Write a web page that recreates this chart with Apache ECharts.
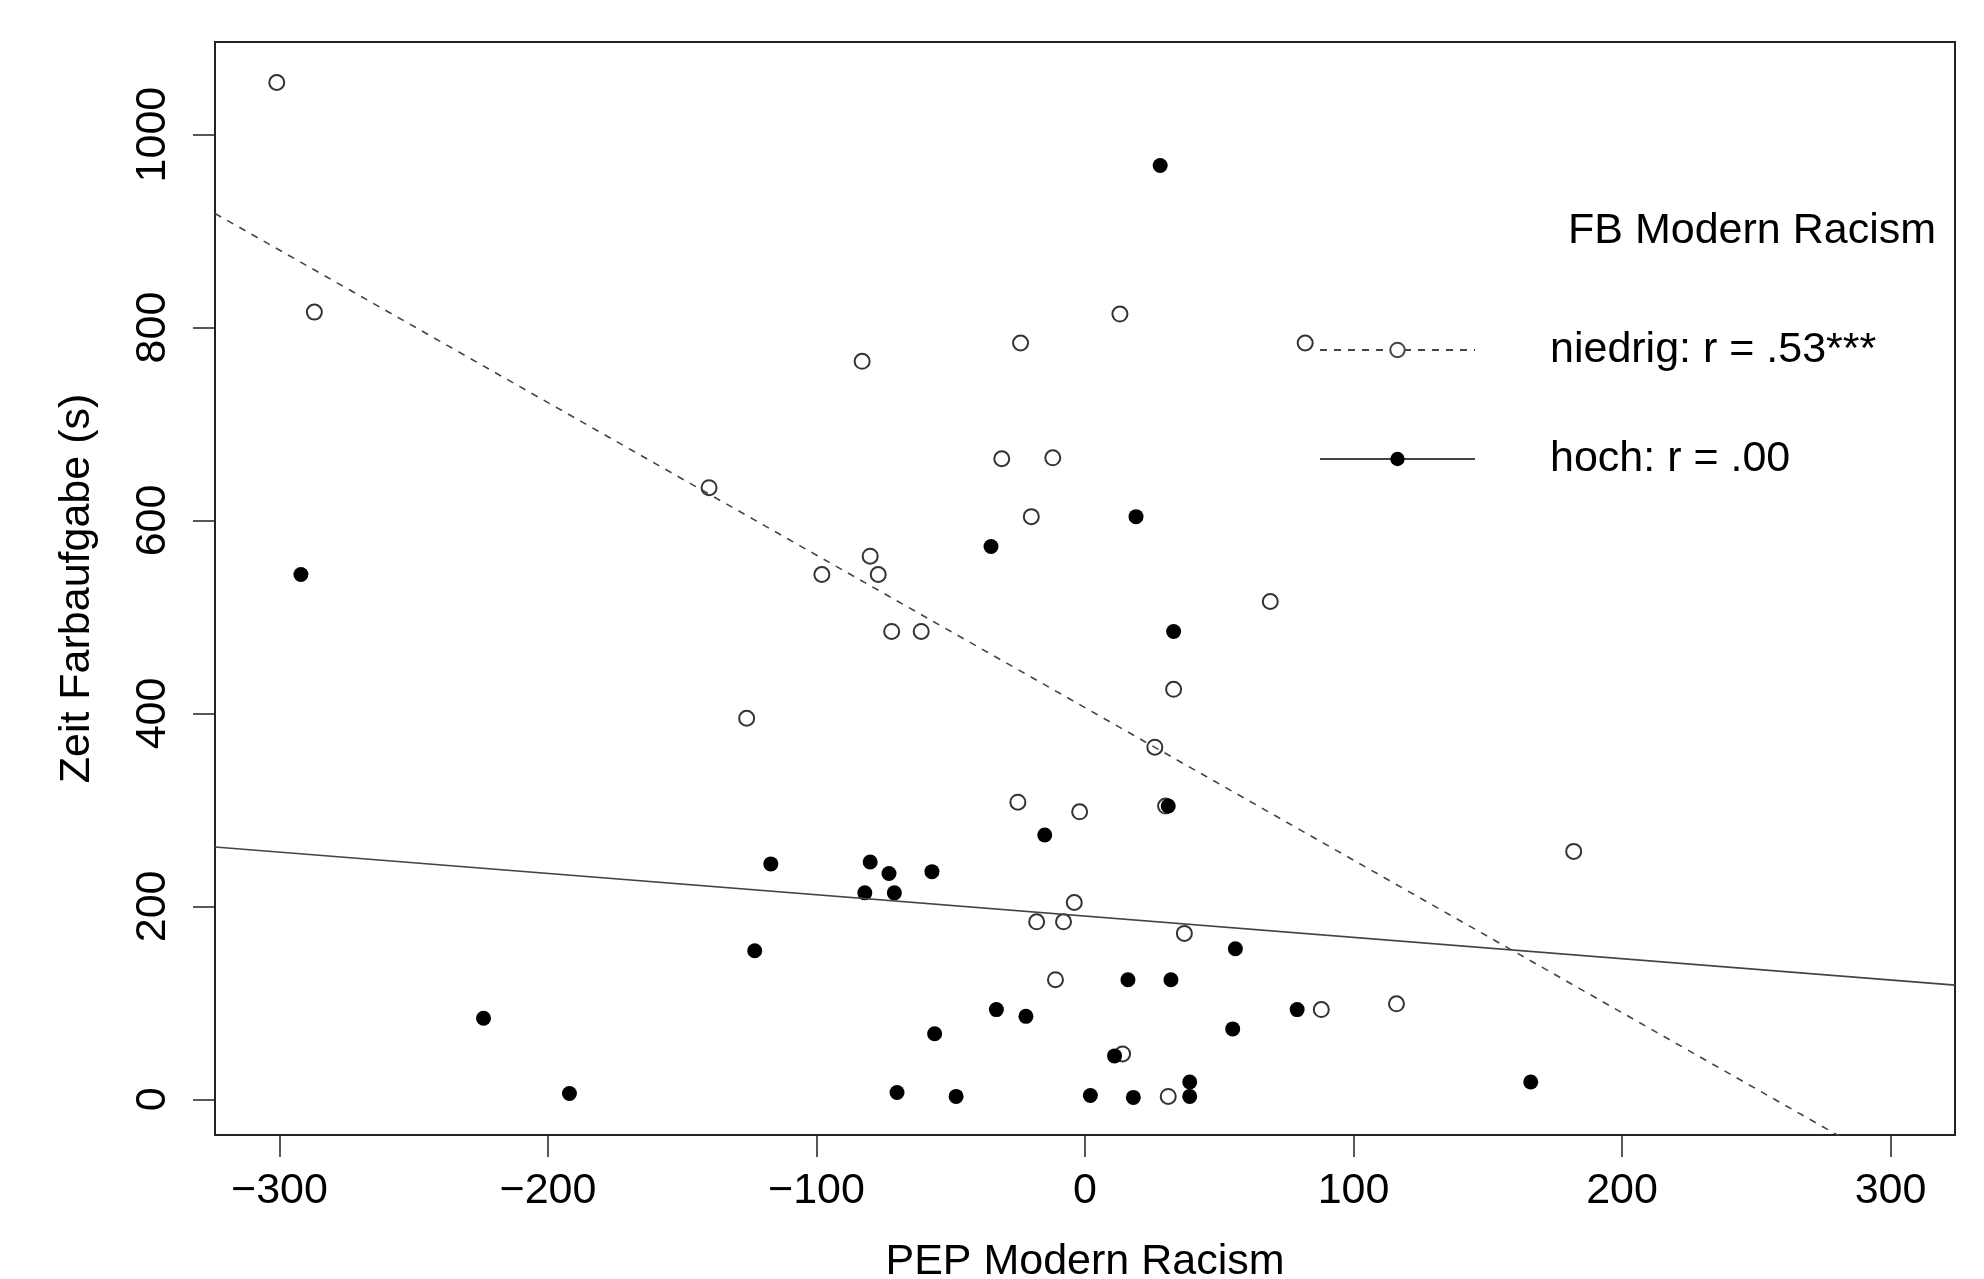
<!DOCTYPE html>
<html>
<head>
<meta charset="utf-8">
<title>Zeit Farbaufgabe vs PEP Modern Racism</title>
<script src="https://cdn.jsdelivr.net/npm/echarts@6.0.0/dist/echarts.min.js"></script>
<style>
  html, body { margin: 0; padding: 0; background: #fff; }
  #chart { width: 1984px; height: 1279px; }
</style>
</head>
<body>
<div id="chart"></div>
<script>
// Punkte gruppe "niedrig" (offene Kreise): [PEP, Zeit]
const niedrigPoints = [
  [-301, 1054], [-287, 816], [-83, 765], [-24, 784], [13, 814], [82, 784],
  [-140, 634], [-31, 664], [-12, 665], [-20, 604], [-80, 563], [-98, 544],
  [-77, 544], [-72, 485], [-61, 485], [-126, 395], [33, 425], [26, 365],
  [69, 516], [-25, 308], [-2, 298], [30, 304], [182, 257], [-4, 204],
  [-18, 184], [-8, 184], [37, 172], [-11, 124], [88, 93], [116, 99],
  [14, 47], [31, 3]
];
// gruppe "hoch" (gefuellte Kreise)
const hochPoints = [
  [28, 968], [19, 604], [-35, 573], [-292, 544], [33, 485], [31, 304],
  [-15, 274], [-117, 244], [-80, 246], [-73, 234], [-57, 236], [-82, 214],
  [-71, 214], [-123, 154], [56, 156], [16, 124], [32, 124], [-33, 93],
  [-22, 86], [79, 93], [-224, 84], [-56, 68], [55, 73], [11, 45],
  [-192, 6], [-70, 7], [-48, 3], [2, 4], [18, 2], [39, 3], [39, 18], [166, 18]
];
// Regressionsgeraden: [Achsenabschnitt, Steigung]
const niedrigFit = [406, -1.581];
const hochFit = [190, -0.221];

const xTicks = [-300, -200, -100, 0, 100, 200, 300];
const yTicks = [0, 200, 400, 600, 800, 1000];
const xRange = [-324, 324];
const yRange = [-37, 1096];

const legendNames = ['niedrig: r = .53***', 'hoch: r = .00'];

function fitLine(fit) {
  return xRange.map(x => [x, fit[0] + fit[1] * x]);
}

const FONT = 'Liberation Sans, Arial, sans-serif';

const chart = echarts.init(document.getElementById('chart'));
chart.setOption({
  animation: false,
  backgroundColor: '#fff',
  title: {
    text: 'FB Modern Racism',
    right: 48,
    top: 206,
    padding: 0,
    textStyle: { fontFamily: FONT, fontSize: 43, fontWeight: 'normal', color: '#000', lineHeight: 50 }
  },
  legend: {
    data: legendNames,
    orient: 'vertical',
    left: 1314,
    top: 320,
    itemWidth: 155,
    itemHeight: 18,
    itemGap: 59,
    selectedMode: false,
    textStyle: { fontFamily: FONT, fontSize: 43, color: '#000', lineHeight: 50, padding: [0, 0, 0, 70] }
  },
  grid: {
    left: 215, top: 42, width: 1740, height: 1093,
    outerBoundsMode: 'none',
    containLabel: false,
    show: true, borderColor: '#222', borderWidth: 2, backgroundColor: '#fff'
  },
  xAxis: {
    type: 'value',
    min: xRange[0], max: xRange[1],
    name: 'PEP Modern Racism',
    nameLocation: 'middle',
    nameGap: 106,
    nameTextStyle: { fontFamily: FONT, fontSize: 43, color: '#000' },
    axisLine: { show: false, onZero: false },
    splitLine: { show: false },
    axisTick: { show: true, inside: false, length: 22, customValues: xTicks, lineStyle: { color: '#222', width: 1.5 } },
    axisLabel: {
      customValues: xTicks,
      margin: 35,
      fontFamily: FONT, fontSize: 43, color: '#000',
      formatter: v => String(v).replace('-', '\u2212')
    }
  },
  yAxis: {
    type: 'value',
    min: yRange[0], max: yRange[1],
    name: 'Zeit Farbaufgabe (s)',
    nameLocation: 'middle',
    nameGap: 116,
    nameRotate: 90,
    nameTextStyle: { fontFamily: FONT, fontSize: 43, color: '#000' },
    axisLine: { show: false, onZero: false },
    splitLine: { show: false },
    axisTick: { show: true, inside: false, length: 22, customValues: yTicks, lineStyle: { color: '#222', width: 1.5 } },
    axisLabel: {
      customValues: yTicks,
      rotate: 90,
      margin: 40,
      fontFamily: FONT, fontSize: 43, color: '#000',
      formatter: v => String(v)
    }
  },
  series: [
    {
      name: 'niedrig',
      type: 'scatter',
      symbol: 'emptyCircle',
      symbolSize: 15,
      itemStyle: { color: '#333', borderColor: '#333', borderWidth: 1.6, opacity: 1 },
      data: niedrigPoints
    },
    {
      name: 'hoch',
      type: 'scatter',
      symbol: 'circle',
      symbolSize: 15,
      itemStyle: { color: '#000', opacity: 1 },
      data: hochPoints
    },
    {
      name: legendNames[0],
      type: 'line',
      symbol: 'emptyCircle',
      showSymbol: false,
      clip: true,
      itemStyle: { color: '#444' },
      lineStyle: { color: '#444', width: 1.6, type: [7, 7] },
      data: fitLine(niedrigFit)
    },
    {
      name: legendNames[1],
      type: 'line',
      symbol: 'circle',
      showSymbol: false,
      clip: true,
      itemStyle: { color: '#000' },
      lineStyle: { color: '#444', width: 1.6 },
      data: fitLine(hochFit)
    }
  ]
});
window.onresize = function () {
  chart.resize();
};
</script>
</body>
</html>
